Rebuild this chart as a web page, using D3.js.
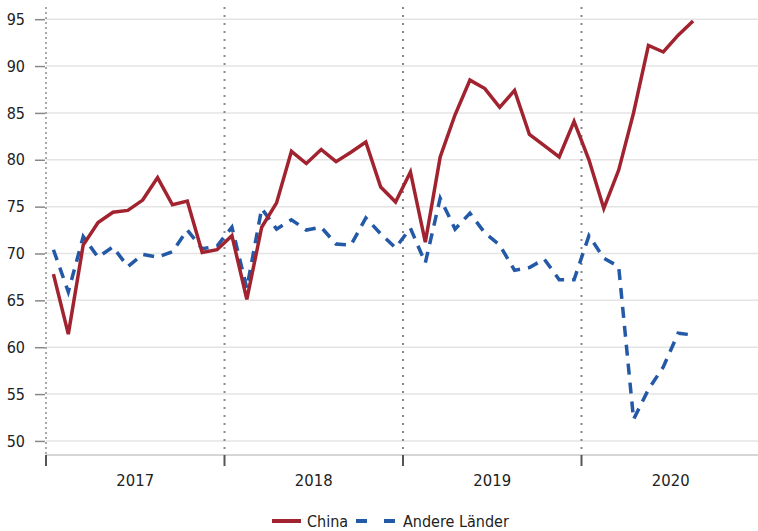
<!DOCTYPE html>
<html>
<head>
<meta charset="utf-8">
<script src="https://cdn.jsdelivr.net/npm/d3@7"></script>
<style>
body { margin: 0; background: #fff; }
text { font-family: "Liberation Sans Narrow", "DejaVu Sans Condensed", "Roboto", sans-serif; fill: #222; }
</style>
</head>
<body>
<svg id="chart" width="758" height="531"></svg>
<script>
var years = ['2017', '2018', '2019', '2020'];
var yticks = [50, 55, 60, 65, 70, 75, 80, 85, 90, 95];
var seriesNames = ['China', 'Andere Länder'];

// monatlich, Jan 2017 bis Aug 2020
var china = [67.8, 61.4, 70.9, 73.3, 74.4, 74.6, 75.7, 78.1, 75.2, 75.6, 70.1, 70.4,
             71.9, 65.1, 72.8, 75.4, 80.9, 79.6, 81.1, 79.8, 80.8, 81.9, 77.1, 75.5,
             78.7, 71.2, 80.3, 84.8, 88.5, 87.6, 85.6, 87.4, 82.7, 81.5, 80.3, 84.1,
             80.0, 74.8, 78.9, 85.0, 92.2, 91.5, 93.3, 94.8];
var andere = [70.4, 65.9, 71.8, 69.6, 70.7, 68.6, 69.9, 69.6, 70.2, 72.5, 70.5, 70.8,
              72.8, 66.3, 74.8, 72.6, 73.6, 72.5, 72.8, 71.0, 70.9, 73.8, 72.1, 70.6,
              72.7, 69.0, 75.9, 72.6, 74.3, 72.2, 70.9, 68.2, 68.5, 69.4, 67.2, 67.2,
              71.9, 69.5, 68.6, 52.3, 55.5, 57.9, 61.5, 61.3];

var colors = ['#a1232f', '#2359a6'];

var svg = d3.select("#chart");
var plotLeft = 46, plotRight = 760, plotTop = 7, plotBottom = 455;

var x = d3.scaleLinear().domain([0, 48]).range([plotLeft, plotRight]);
var y = d3.scaleLinear().domain([48.5, 96.3]).range([plotBottom, plotTop]);

// gitterlinien
svg.selectAll(".grid").data(yticks).enter()
    .append("line")
    .attr("class", "grid")
    .attr("x1", plotLeft).attr("x2", plotRight)
    .attr("y1", function(d) { return y(d); })
    .attr("y2", function(d) { return y(d); })
    .attr("stroke", "#e4e4e4")
    .attr("stroke-width", 1.5);

// y achse
var yaxis = svg.append("g")
    .attr("transform", "translate(" + (plotLeft - 1) + ",0)")
    .call(d3.axisLeft(y).tickValues(yticks).tickSize(10).tickPadding(10));
yaxis.select(".domain").remove();
yaxis.selectAll("line").attr("stroke", "#888").attr("stroke-width", 1.5);
yaxis.selectAll("text").style("font-size", "16px").attr("fill", "#222")
    .style("font-family", "'Liberation Sans Narrow', 'DejaVu Sans Condensed', sans-serif");

// jahres-trennlinien (gepunktet)
svg.selectAll(".yearline").data(d3.range(0, 4)).enter()
    .append("line")
    .attr("class", "yearline")
    .attr("x1", function(d) { return x(d * 12); })
    .attr("x2", function(d) { return x(d * 12); })
    .attr("y1", plotTop).attr("y2", plotBottom)
    .attr("stroke", function(d) { return d == 0 ? "#aaa" : "#888"; })
    .attr("stroke-width", 2)
    .attr("stroke-dasharray", function(d) { return d == 0 ? "2,3" : "2,6"; });

// x achse
svg.append("line")
    .attr("x1", plotLeft).attr("x2", plotRight)
    .attr("y1", plotBottom).attr("y2", plotBottom)
    .attr("stroke", "#c8c8c8").attr("stroke-width", 1.5);

svg.selectAll(".xtick").data(d3.range(0, 4)).enter()
    .append("line")
    .attr("class", "xtick")
    .attr("x1", function(d) { return x(d * 12); })
    .attr("x2", function(d) { return x(d * 12); })
    .attr("y1", plotBottom).attr("y2", plotBottom + 11)
    .attr("stroke", "#555").attr("stroke-width", 2);

svg.selectAll(".yearlabel").data(years).enter()
    .append("text")
    .attr("class", "yearlabel")
    .attr("x", function(d, i) { return x(i * 12 + 6); })
    .attr("y", 486)
    .attr("text-anchor", "middle")
    .style("font-size", "16.5px")
    .text(function(d) { return d; });

// linien
var line = d3.line()
    .x(function(d, i) { return x(i + 0.5); })
    .y(function(d) { return y(d); });

svg.append("path")
    .datum(andere)
    .attr("d", line)
    .attr("fill", "none")
    .attr("stroke", colors[1])
    .attr("stroke-width", 3.5)
    .attr("stroke-dasharray", "11,8");

svg.append("path")
    .datum(china)
    .attr("d", line)
    .attr("fill", "none")
    .attr("stroke", colors[0])
    .attr("stroke-width", 3.5)
    .attr("stroke-linejoin", "miter");

// legende
var leg = svg.append("g").attr("transform", "translate(0,521)");
leg.append("line")
    .attr("x1", 272).attr("x2", 301).attr("y1", 0).attr("y2", 0)
    .attr("stroke", colors[0]).attr("stroke-width", 4);
leg.append("text").attr("x", 307).attr("y", 6)
    .style("font-size", "16px").text(seriesNames[0]);
leg.append("line")
    .attr("x1", 356).attr("x2", 397).attr("y1", 0).attr("y2", 0)
    .attr("stroke", colors[1]).attr("stroke-width", 4)
    .attr("stroke-dasharray", "11,17");
leg.append("text").attr("x", 403).attr("y", 6)
    .style("font-size", "16px").text(seriesNames[1]);
</script>
</body>
</html>
